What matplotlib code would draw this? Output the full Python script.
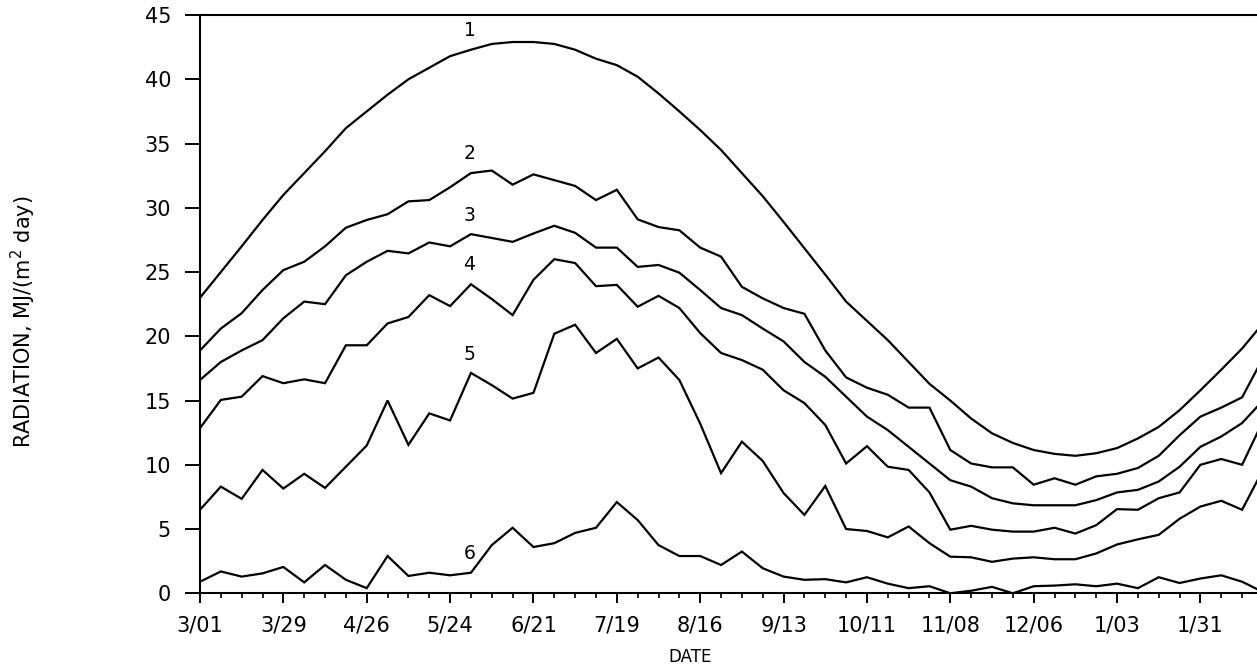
import matplotlib; matplotlib.use("Agg")
import matplotlib.pyplot as plt, numpy as np
from matplotlib.ticker import MultipleLocator

plt.rcParams.update({"font.family": "DejaVu Sans", "axes.linewidth": 1.5,
                     "xtick.major.width": 1.4, "ytick.major.width": 1.4, "xtick.minor.width": 1.2})

# weekly values starting 3/01 (day 0), MJ/(m2 day)
week = np.arange(52)
days = week * 7
r1 = [23.0, 25.0, 27.0, 29.05, 31.0, 32.7, 34.4, 36.2, 37.5, 38.8,
      40.0, 40.9, 41.8, 42.3, 42.75, 42.9, 42.9, 42.75, 42.3, 41.6,
      41.1, 40.2, 38.9, 37.5, 36.05, 34.5, 32.7, 30.9, 28.9, 26.85,
      24.8, 22.7, 21.2, 19.7, 18.0, 16.3, 15.0, 13.6, 12.45, 11.7,
      11.15, 10.85, 10.7, 10.9, 11.3, 12.05, 12.95, 14.25, 15.8, 17.4,
      19.05, 21.0]
r2 = [18.9, 20.6, 21.8, 23.6, 25.15, 25.8, 27.0, 28.45, 29.05, 29.5,
      30.5, 30.6, 31.6, 32.7, 32.9, 31.8, 32.6, 32.15, 31.7, 30.6,
      31.4, 29.1, 28.5, 28.25, 26.9, 26.2, 23.85, 22.95, 22.2, 21.75,
      18.9, 16.8, 16.0, 15.45, 14.45, 14.45, 11.15, 10.1, 9.8, 9.8,
      8.45, 8.95, 8.45, 9.1, 9.3, 9.75, 10.7, 12.3, 13.75, 14.45,
      15.25, 18.3]
r3 = [16.6, 18.0, 18.9, 19.7, 21.4, 22.7, 22.5, 24.75, 25.8, 26.65,
      26.45, 27.3, 27.0, 27.95, 27.65, 27.35, 28.0, 28.6, 28.05, 26.9,
      26.9, 25.4, 25.55, 24.95, 23.6, 22.2, 21.65, 20.6, 19.6, 18.0,
      16.85, 15.3, 13.75, 12.7, 11.4, 10.1, 8.8, 8.3, 7.4, 7.0,
      6.85, 6.85, 6.85, 7.25, 7.85, 8.05, 8.7, 9.85, 11.4, 12.2,
      13.25, 15.0]
r4 = [12.85, 15.05, 15.3, 16.9, 16.35, 16.65, 16.35, 19.3, 19.3, 21.0,
      21.5, 23.2, 22.35, 24.05, 22.9, 21.65, 24.4, 26.0, 25.7, 23.9,
      24.0, 22.3, 23.15, 22.2, 20.25, 18.7, 18.15, 17.4, 15.8, 14.8,
      13.1, 10.1, 11.45, 9.85, 9.6, 7.85, 4.95, 5.25, 4.95, 4.8,
      4.8, 5.1, 4.65, 5.3, 6.55, 6.5, 7.4, 7.85, 10.0, 10.45,
      10.0, 13.4]
r5 = [6.5, 8.3, 7.35, 9.6, 8.15, 9.3, 8.2, 9.85, 11.5, 15.0,
      11.55, 14.0, 13.45, 17.15, 16.2, 15.15, 15.6, 20.2, 20.9, 18.7,
      19.8, 17.5, 18.35, 16.6, 13.2, 9.35, 11.8, 10.3, 7.8, 6.1,
      8.35, 5.0, 4.85, 4.35, 5.2, 3.9, 2.85, 2.8, 2.45, 2.7,
      2.8, 2.65, 2.65, 3.1, 3.8, 4.2, 4.55, 5.8, 6.75, 7.2,
      6.5, 9.6]
r6 = [0.9, 1.7, 1.3, 1.55, 2.05, 0.85, 2.2, 1.05, 0.4, 2.9,
      1.35, 1.6, 1.4, 1.6, 3.75, 5.1, 3.6, 3.9, 4.7, 5.1,
      7.1, 5.7, 3.75, 2.9, 2.9, 2.2, 3.25, 1.95, 1.3, 1.05,
      1.1, 0.85, 1.25, 0.75, 0.4, 0.55, 0.0, 0.2, 0.5, 0.0,
      0.55, 0.6, 0.7, 0.55, 0.75, 0.4, 1.25, 0.8, 1.15, 1.4,
      0.9, 0.1]
series = [r1, r2, r3, r4, r5, r6]
curve_ids = ["1", "2", "3", "4", "5", "6"]
date_labels = ["3/01", "3/29", "4/26", "5/24", "6/21", "7/19", "8/16",
               "9/13", "10/11", "11/08", "12/06", "1/03", "1/31"]

fig = plt.figure(figsize=(12.57, 6.71), dpi=100)
ax = fig.add_axes([0.1591, 0.1158, 0.8409, 0.8618])
for s in series:
    ax.plot(days, s, color="black", lw=1.6, solid_joinstyle="miter")

# curve numbers sit just above each line
lab_y = [43.8, 34.2, 29.4, 25.55, 18.6, 3.1]
for t, y in zip(curve_ids, lab_y):
    ax.text(90.5, y, t, ha="center", va="center", fontsize=13.5)

ax.set_xlim(0, 355)
ax.set_ylim(0, 45)
ax.set_xticks(np.arange(0, 13) * 28)
ax.set_xticklabels(date_labels)
ax.xaxis.set_minor_locator(MultipleLocator(7))
ax.yaxis.set_major_locator(MultipleLocator(5))
ax.tick_params(axis="x", which="major", direction="out", length=7.2, pad=9, labelsize=15)
ax.tick_params(axis="x", which="minor", direction="out", length=3.6)
ax.tick_params(axis="y", direction="out", length=10.8, pad=10, labelsize=15)
ax.spines["right"].set_visible(False)

fig.text(0.019, 0.52, "RADIATION, MJ/(m$^2$ day)", rotation=90, ha="center", va="center", fontsize=15)
fig.text(0.549, 0.021, "DATE", ha="center", va="center", fontsize=12)

fig.savefig("out.png", dpi=100, facecolor="white")
